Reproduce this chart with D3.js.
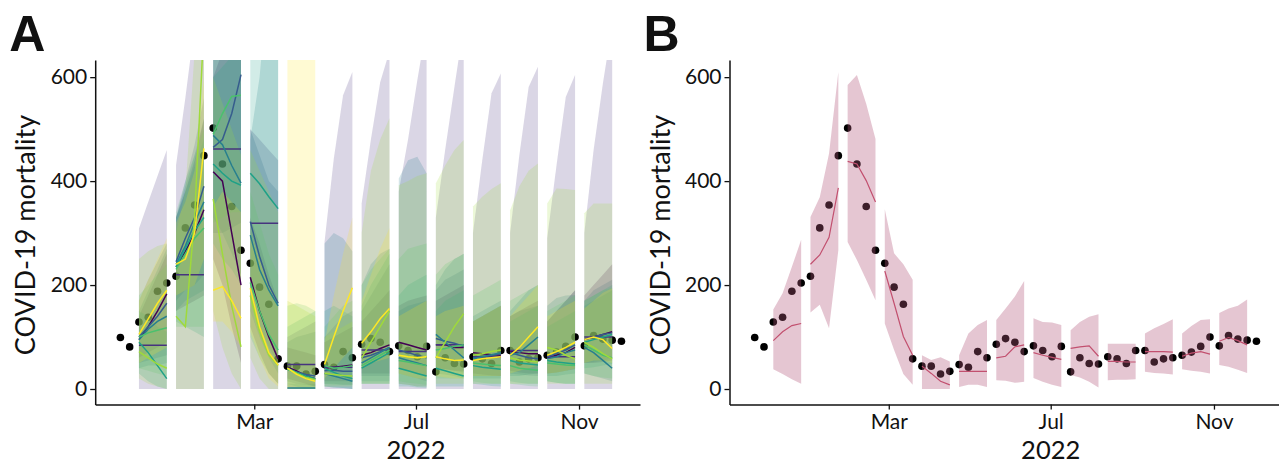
<!DOCTYPE html>
<html>
<head>
<meta charset="utf-8">
<script src="https://cdn.jsdelivr.net/npm/d3@7"></script>
<style>
  body { margin: 0; background: #fff; }
  svg { display: block; }
  text { font-family: Lato, "Open Sans", sans-serif; fill: #111; }
</style>
</head>
<body>
<svg id="chart" width="1279" height="464"></svg>
<script>
// Weekly reported COVID-19 deaths, first week ending 2021-11-20
const firstWeek = "2021-11-20";
const observedDeaths = [99,81,129,138,188,204,217,310,354,449,502,433,351,267,242,196,163,58,44,44,29,34,47,42,72,60,86,97,90,72,83,74,62,82,33,60,49,48,62,58,49,74,74,52,58,60,65,71,82,100,83,103,96,94,92];

// Each forecast round covers four weeks; index of its first week
const roundStarts = [2,6,10,14,18,22,26,30,34,38,42,46,50];

// Axis ticks
const yTicks = [0, 200, 400, 600];
const xTicks = ["2022-03-01", "2022-07-01", "2022-11-01"];
const xTitle = "2022";
const yTitle = "COVID-19 mortality";

// Individual models (panel A), viridis palette
const modelColors = ["#440154","#46337E","#365C8D","#277F8E","#1FA187","#4AC16D","#9FDA3A","#FDE725"];

const medianM0 = [95,120,150,183, 235,265,300,345, 418,400,300,200, 215,150,100,58, 42,35,25,20, 40,42,44,46, 65,70,78,85, 90,85,80,75, 85,85,80,80, 70,68,66,65, 72,70,68,68, 60,65,70,80, 95,100,105,110];
const lowerM0  = [60,70,80,90, 150,160,170,180, 250,200,120,50, 120,70,30,10, 20,15,10,5, 15,15,15,15, 30,30,30,30, 40,35,30,25, 40,38,35,35, 30,28,26,25, 35,32,30,30, 30,32,35,38, 50,50,52,55];
const upperM0  = [140,180,220,260, 330,380,440,520, 600,650,700,700, 330,280,220,170, 80,75,70,65, 90,100,110,120, 130,150,170,190, 160,170,175,180, 170,180,190,200, 130,140,150,160, 140,150,160,170, 130,150,170,190, 180,200,220,240];

const medianM1 = [84,84,84,84, 220,220,220,220, 462,462,462,462, 319,319,319,319, 47,47,47,47, 42,42,42,42, 75,75,75,75, 72,72,72,72, 85,85,85,85, 62,62,62,62, 74,74,74,74, 62,62,62,62, 100,100,100,100];
const lowerM1  = [0,0,0,0, 0,0,0,0, 0,0,0,0, 0,0,0,0, 0,0,0,0, 0,0,0,0, 0,0,0,0, 0,0,0,0, 0,0,0,0, 0,0,0,0, 0,0,0,0, 0,0,0,0, 0,0,0,0];
const upperM1  = [309,360,410,460, 431,560,700,800, 900,900,900,900, 500,480,460,440, 100,110,120,130, 283,443,565,610, 357,480,590,650, 380,480,594,700, 330,460,581,700, 300,440,569,607, 300,450,581,620, 290,430,562,604, 300,460,588,700];

const medianM2 = [100,120,140,165, 245,290,330,390, 465,480,530,605, 322,255,200,165, 38,33,28,25, 35,36,34,34, 60,65,72,80, 75,70,65,60, 97,92,88,82, 60,62,65,68, 70,65,60,58, 62,68,75,85, 95,100,105,108];
const lowerM2  = [50,55,60,65, 170,190,200,220, 300,300,310,320, 180,120,80,50, 15,10,8,5, 10,10,8,8, 25,25,25,25, 30,25,20,15, 40,38,35,32, 25,25,25,25, 30,28,26,25, 30,32,35,40, 50,52,55,58];
const upperM2  = [170,210,245,280, 330,400,470,560, 650,700,800,900, 500,450,400,380, 90,100,105,110, 100,120,140,150, 150,180,210,240, 150,160,165,170, 190,210,220,230, 130,140,150,160, 140,150,155,160, 130,150,170,190, 170,190,200,210];

const medianM3 = [95,115,130,140, 240,275,320,360, 488,470,430,396, 296,230,190,160, 2,2,2,2, 30,25,20,15, 50,60,70,80, 60,55,50,45, 105,90,75,60, 58,62,66,70, 65,70,85,100, 58,62,70,75, 80,70,55,40];
const lowerM3  = [40,45,45,50, 150,170,180,190, 330,300,260,220, 150,100,60,30, 0,0,0,0, 5,3,2,0, 15,15,15,15, 10,8,5,5, 30,28,25,20, 20,20,20,20, 25,25,28,30, 25,25,28,30, 30,25,20,15];
const upperM3  = [150,190,230,270, 330,390,450,520, 650,680,700,720, 480,600,800,900, 10,10,10,10, 280,300,290,265, 200,240,260,270, 405,440,447,415, 200,230,250,260, 140,150,160,170, 150,170,190,200, 160,175,180,181, 160,170,180,190];

const medianM4 = [90,70,45,20, 235,270,305,330, 433,415,400,392, 415,395,370,347, 40,32,25,20, 40,32,25,20, 40,50,60,70, 40,35,30,25, 40,35,30,25, 45,42,40,38, 55,50,48,46, 55,52,50,48, 90,95,100,105];
const lowerM4  = [30,15,5,0, 130,120,110,100, 280,250,230,200, 200,150,100,60, 10,5,0,0, 5,3,2,0, 10,10,10,10, 5,5,3,2, 5,5,5,5, 10,8,6,5, 15,12,10,10, 15,12,10,10, 40,42,45,48];
const upperM4  = [150,140,120,110, 330,380,430,480, 600,620,640,660, 900,900,900,900, 120,130,140,150, 150,160,150,140, 160,200,230,260, 180,200,210,220, 150,170,180,190, 130,140,150,160, 130,140,150,160, 120,130,140,150, 170,180,190,200];

const medianM5 = [100,108,113,118, 230,260,290,310, 490,530,563,565, 205,150,105,75, 38,30,22,18, 45,40,42,45, 45,55,65,75, 55,52,48,45, 75,78,82,85, 50,48,46,45, 45,40,38,36, 50,48,46,45, 85,75,65,60];
const lowerM5  = [40,35,30,25, 120,120,120,120, 320,330,340,340, 100,60,30,10, 5,0,0,0, 10,8,8,8, 10,10,10,10, 15,12,10,8, 20,20,20,20, 15,12,10,10, 10,8,6,5, 15,12,10,10, 30,25,22,20];
const upperM5  = [180,200,220,240, 340,400,450,500, 680,720,760,800, 380,320,260,220, 160,165,160,150, 120,140,160,170, 200,230,250,270, 250,270,275,280, 220,240,250,260, 180,190,200,210, 170,180,190,200, 150,160,170,180, 170,180,190,195];

const medianM6 = [72,60,48,40, 140,120,330,700, 366,260,160,81, 180,110,65,45, 40,30,22,18, 30,28,26,25, 60,90,120,150, 65,62,60,62, 60,90,120,145, 65,68,72,75, 60,56,54,52, 80,75,65,58, 90,80,68,58];
const lowerM6  = [20,10,5,0, 0,0,0,0, 150,80,30,0, 60,20,0,0, 0,0,0,0, 5,5,5,5, 10,10,10,10, 10,8,5,5, 10,10,10,10, 10,10,10,10, 10,10,10,10, 10,10,10,10, 10,10,10,10];
const upperM6  = [250,265,275,280, 300,380,650,900, 600,550,500,450, 460,420,380,340, 170,160,150,140, 100,110,120,130, 300,420,480,521, 392,400,410,415, 396,430,460,479, 351,370,385,396, 344,390,420,434, 357,386,385,383, 338,357,357,357];

const medianM7 = [105,135,165,190, 240,250,300,463, 190,197,170,136, 194,120,70,46, 40,28,20,15, 47,100,150,195, 88,110,135,155, 65,62,60,62, 62,58,55,56, 55,58,60,62, 65,80,100,120, 65,72,80,90, 95,100,95,78];
const lowerM7  = [50,60,70,80, 180,190,200,250, 130,130,110,80, 110,60,20,5, 0,0,0,0, 20,40,60,80, 40,50,55,60, 30,25,20,20, 25,22,20,20, 25,25,25,25, 30,35,40,45, 30,32,35,40, 50,55,55,50];
const upperM7  = [170,210,250,290, 320,360,420,600, 350,380,360,340, 300,250,200,160, 900,900,900,900, 90,180,260,330, 170,220,270,310, 140,150,160,170, 140,150,155,160, 130,140,150,160, 140,160,180,200, 140,150,160,170, 155,170,185,194];

// Ensemble forecast (panel B)
const ensembleColor = "#b4577a";
const ensembleMedian = [93,110,122,126, 240,258,292,387, 438,433,401,360, 227,165,101,65, 44,30,15,8, 34,34,34,34, 60,63,81,85, 70,65,61,57, 78,81,83,63, 53,53,52,52, 72,72,72,71, 63,69,72,67, 92,99,93,85];
const ensembleLower  = [38,29,19,10, 147,162,117,267, 283,248,210,171, 126,75,29,8, 0,0,0,0, 4,8,8,4, 17,16,12,14, 21,14,8,4, 27,22,14,3, 17,18,18,19, 33,31,30,28, 38,35,33,30, 46,43,37,31];
const ensembleUpper  = [153,184,235,287, 331,369,453,610, 585,604,549,481, 346,261,240,210, 65,56,61,53, 65,107,123,133, 133,155,178,208, 136,129,128,123, 113,129,139,144, 87,87,87,87, 107,117,125,134, 107,121,133,134, 146,155,160,172];

const modelMedians = [medianM0, medianM1, medianM2, medianM3, medianM4, medianM5, medianM6, medianM7];
const modelLowers  = [lowerM0, lowerM1, lowerM2, lowerM3, lowerM4, lowerM5, lowerM6, lowerM7];
const modelUppers  = [upperM0, upperM1, upperM2, upperM3, upperM4, upperM5, upperM6, upperM7];

// ---------------------------------------------------------------------
const parse = d3.utcParse("%Y-%m-%d");
const start = parse(firstWeek);
const weeks = observedDeaths.map((v, i) => d3.utcDay.offset(start, 7 * i));

const svg = d3.select("#chart");

// Build the four-week segments of one forecast series
function segments(med, lo, hi) {
  return roundStarts.map((s, k) => d3.range(4).map(j => ({
    date: weeks[s + j],
    med: med[4 * k + j],
    lo: lo[4 * k + j],
    hi: hi[4 * k + j]
  })));
}

function panel(opts) {
  const g = svg.append("g");
  const x = d3.scaleUtc()
    .domain([parse("2021-11-01"), parse(opts.end)])
    .range([opts.left, opts.right]);
  const y = d3.scaleLinear().domain([-30, 633]).range([404.6, 60]);

  const clipId = "clip-" + opts.id;
  svg.append("clipPath").attr("id", clipId)
    .append("rect")
    .attr("x", opts.left).attr("y", 60)
    .attr("width", opts.right - opts.left).attr("height", 344.6);

  const plot = g.append("g").attr("clip-path", `url(#${clipId})`);

  // observed weekly deaths
  plot.append("g").selectAll("circle")
    .data(observedDeaths)
    .join("circle")
    .attr("cx", (d, i) => x(weeks[i]))
    .attr("cy", d => y(d))
    .attr("r", 3.8)
    .attr("fill", "#000");

  const area = d3.area().x(d => x(d.date)).y0(d => y(d.lo)).y1(d => y(d.hi));
  const line = d3.line().x(d => x(d.date)).y(d => y(d.med));

  opts.draw(plot, area, line);

  // axes
  const yAxis = g.append("g")
    .attr("transform", `translate(${opts.left},0)`)
    .call(d3.axisLeft(y).tickValues(yTicks).tickSize(5).tickSizeOuter(0).tickPadding(3));
  const xAxis = g.append("g")
    .attr("transform", `translate(0,404.6)`)
    .call(d3.axisBottom(x).tickValues(xTicks.map(parse)).tickFormat(d3.utcFormat("%b"))
      .tickSize(5).tickSizeOuter(0).tickPadding(4));
  [yAxis, xAxis].forEach(a => {
    a.select(".domain").attr("stroke", "#111").attr("stroke-width", 1.5);
    a.selectAll(".tick line").attr("stroke", "#111").attr("stroke-width", 1.3);
    a.selectAll(".tick text").attr("font-size", 21).attr("fill", "#111")
      .style("font-family", "Lato, 'Open Sans', sans-serif");
  });

  g.append("text")
    .attr("transform", `translate(${opts.left - 60},235) rotate(-90)`)
    .attr("text-anchor", "middle")
    .attr("font-size", 27)
    .text(yTitle);

  g.append("text")
    .attr("x", x(parse("2022-07-01")))
    .attr("y", 458.5)
    .attr("text-anchor", "middle")
    .attr("font-size", 25.5)
    .text(xTitle);

  g.append("text")
    .attr("x", opts.left - 86)
    .attr("y", 51)
    .attr("font-size", 50)
    .attr("font-weight", 700)
    .style("font-family", "'Liberation Sans', Arial, sans-serif")
    .text(opts.id);
}

// Panel A: every model, one ribbon and median line per forecast round
panel({
  id: "A", left: 95.2, right: 640, end: "2022-12-17",
  draw(plot, area, line) {
    const series = modelColors.map((c, m) => ({
      color: c, segs: segments(modelMedians[m], modelLowers[m], modelUppers[m])
    }));
    series.forEach(s => {
      plot.append("g").selectAll("path").data(s.segs).join("path")
        .attr("d", area).attr("fill", s.color).attr("fill-opacity", 0.2);
    });
    series.forEach(s => {
      plot.append("g").selectAll("path").data(s.segs).join("path")
        .attr("d", line).attr("fill", "none")
        .attr("stroke", s.color).attr("stroke-width", 1.5);
    });
  }
});

// Panel B: ensemble forecast
panel({
  id: "B", left: 729.5, right: 1279, end: "2022-12-20",
  draw(plot, area, line) {
    const segs = segments(ensembleMedian, ensembleLower, ensembleUpper);
    plot.append("g").selectAll("path").data(segs).join("path")
      .attr("d", area).attr("fill", ensembleColor).attr("fill-opacity", 0.34);
    plot.append("g").selectAll("path").data(segs).join("path")
      .attr("d", line).attr("fill", "none")
      .attr("stroke", "#c2506f").attr("stroke-width", 1.2);
  }
});
</script>
</body>
</html>
